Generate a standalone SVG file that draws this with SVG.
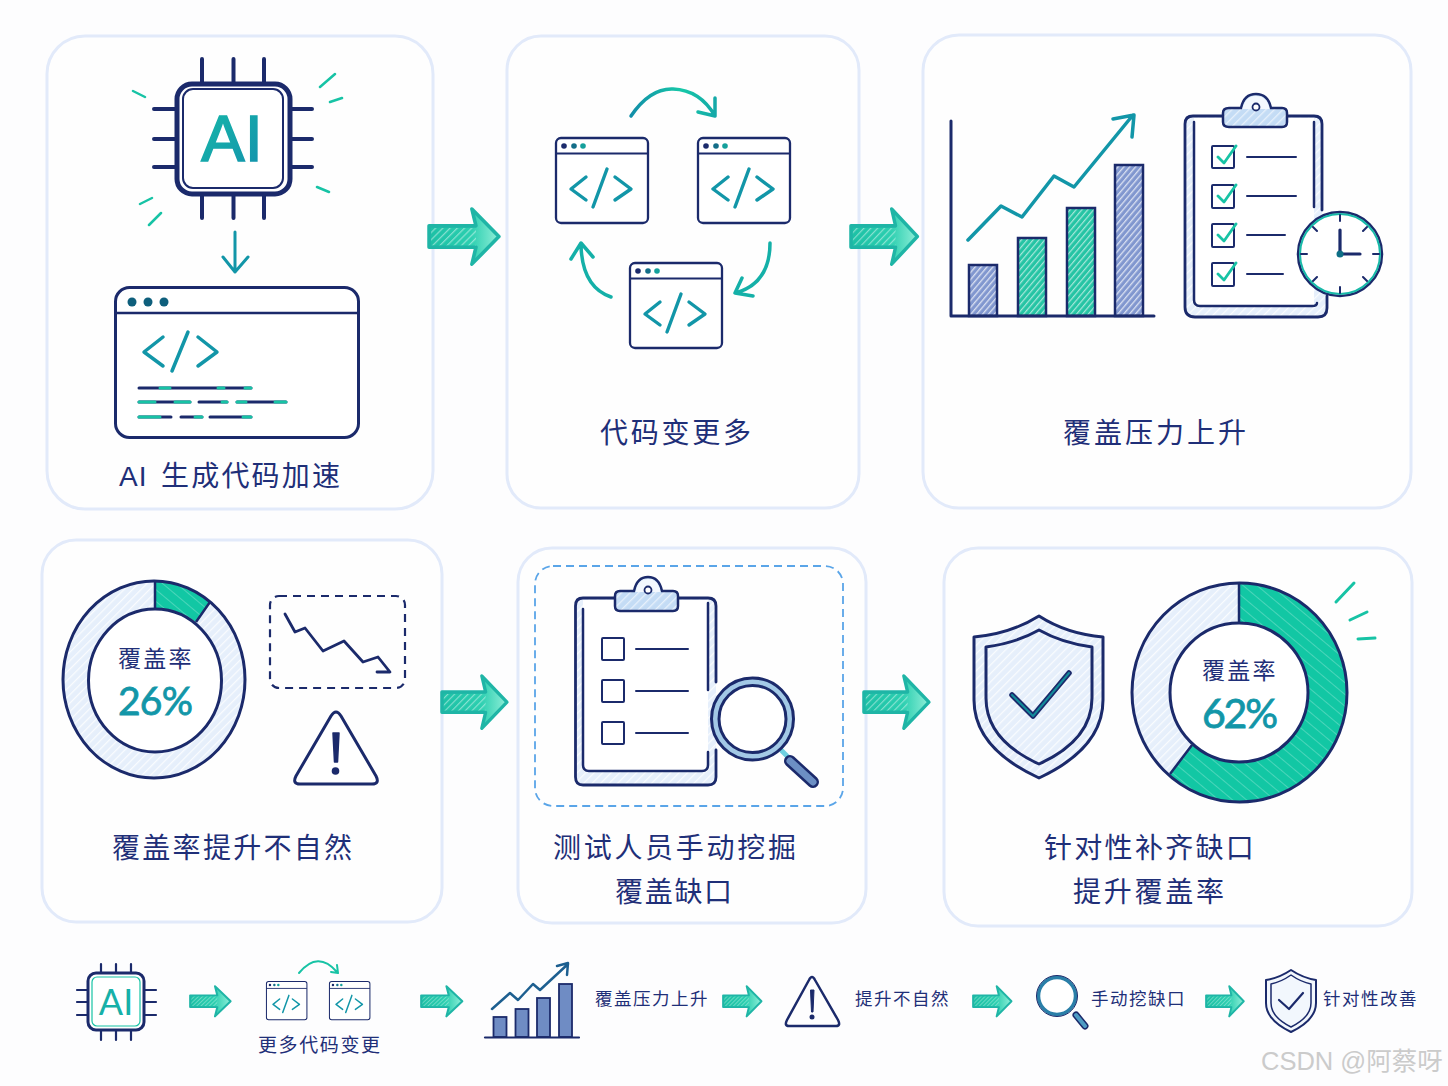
<svg xmlns="http://www.w3.org/2000/svg" width="1448" height="1086" viewBox="0 0 1448 1086">
<style>
.panel{fill:#fefefe;stroke:#e2eafa;stroke-width:3}
.nv{fill:none;stroke:#1b2a6b;stroke-linecap:round;stroke-linejoin:round}
.tl{fill:none;stroke:#17c3a5;stroke-linecap:round;stroke-linejoin:round}
.bt{fill:none;stroke:#1296a8;stroke-linecap:round;stroke-linejoin:round}
.lb{font-family:"Noto Sans CJK SC","Liberation Sans",sans-serif;fill:#1f2f78;font-size:28px}
.sm{font-family:"Noto Sans CJK SC","Liberation Sans",sans-serif;fill:#1f2f78;font-size:17.5px;letter-spacing:1.5px}
.pc{font-family:"Lato","Liberation Sans",sans-serif;fill:#1296a8;stroke:#1296a8;stroke-width:.8}
.dk{font-family:"Noto Sans CJK SC",sans-serif;fill:#1f2f78;font-size:23px;letter-spacing:2.2px}
</style>
<defs>
<pattern id="hW" width="5" height="5" patternUnits="userSpaceOnUse" patternTransform="rotate(-45)"><rect width="5" height="1.2" fill="#fff" opacity=".45"/></pattern>
<pattern id="hS" width="9" height="9" patternUnits="userSpaceOnUse" patternTransform="rotate(40)"><rect width="9" height="9" fill="#12c7a4"/><rect width="9" height=".8" fill="#fff" opacity=".3"/></pattern>
<pattern id="hB" width="4.500" height="4.500" patternUnits="userSpaceOnUse" patternTransform="rotate(-50)"><rect width="4.500" height="4.500" fill="#8197cf"/><rect width="4.500" height="1.300" fill="#fff" opacity=".7"/></pattern>
<pattern id="hG" width="4.500" height="4.500" patternUnits="userSpaceOnUse" patternTransform="rotate(-50)"><rect width="4.500" height="4.500" fill="#25c4a4"/><rect width="4.500" height="1.200" fill="#fff" opacity=".6"/></pattern>
<pattern id="hL" width="6" height="6" patternUnits="userSpaceOnUse" patternTransform="rotate(-45)"><rect width="6" height="6" fill="#e6effb"/><rect width="6" height="1.200" fill="#fff" opacity=".8"/></pattern>
<pattern id="hC" width="6" height="6" patternUnits="userSpaceOnUse" patternTransform="rotate(-45)"><rect width="6" height="6" fill="#c4dcf5"/><rect width="6" height="1.300" fill="#fff" opacity=".6"/></pattern>
<linearGradient id="gAI" x1="0" y1="0" x2="1" y2="1"><stop offset="0" stop-color="#17b9a8"/><stop offset="1" stop-color="#1290ad"/></linearGradient>
<linearGradient id="gArc" gradientUnits="userSpaceOnUse" x1="631" y1="0" x2="715" y2="0"><stop offset="0" stop-color="#128ea8"/><stop offset=".6" stop-color="#17c8a8"/><stop offset="1" stop-color="#14a9a8"/></linearGradient>
<linearGradient id="gA" x1="0" y1="0" x2="1" y2="0"><stop offset="0" stop-color="#1cc0a5"/><stop offset=".6" stop-color="#2ccfb0"/><stop offset="1" stop-color="#8feed8"/></linearGradient>
<g id="arr"><path d="M2 18.500H48L44 2 70.500 29 44 56 48 39.500H2Z" fill="url(#gA)" stroke="#1fb5a6" stroke-width="3.500" stroke-linejoin="round"/><path d="M4 20.500H48V37.500H4Z" fill="url(#hW)"/></g>
<g id="win"><rect x="1" y="1" width="92" height="85" rx="5" fill="#fff" stroke="#1b2a6b" stroke-width="2.300"/><path d="M1 16.500H93" stroke="#1b2a6b" stroke-width="2"/><circle cx="9" cy="9" r="2.800" fill="#1b2a6b"/><circle cx="19" cy="9" r="2.800" fill="#136d88"/><circle cx="28" cy="9" r="2.800" fill="#14a09c"/><path class="bt" stroke-width="3.400" d="M31 40 16 52 31 63M52 32 38 70M60 40 76 52 60 63"/></g>
</defs>
<rect width="1448" height="1086" fill="#fdfdfe"/>

<g id="node-ai">
<rect class="panel" x="47" y="36" width="386" height="473" rx="38"/>
<path class="nv" stroke-width="4" d="M202 59V82M233.500 59V82M264 59V82M202 196V218M233.500 196V218M264 196V218M154 109H175M154 139H175M154 167H175M290 109H312M290 139H312M290 167H312"/>
<rect x="177" y="84" width="113" height="110" rx="15" fill="#fff" stroke="#1b2a6b" stroke-width="5"/>
<rect x="183" y="89" width="100" height="99" rx="10" fill="#fff" stroke="#1b2a6b" stroke-width="2"/>
<text x="232" y="161" text-anchor="middle" font-family="Liberation Sans" font-size="65" fill="url(#gAI)" stroke="url(#gAI)" stroke-width="1.600">AI</text>
<path class="tl" stroke-width="2.500" d="M320 87 335 74M330 102 342 98M133 91 145 97M140 204 152 198M149 225 161 213M317 187 329 192"/>
<path class="bt" stroke-width="3" d="M235 232V272M223 257 235 272 248 257"/>
<rect x="115.500" y="287.500" width="243" height="150" rx="14" fill="#fff" stroke="#1b2a6b" stroke-width="3"/>
<path d="M116 313H358" stroke="#1b2a6b" stroke-width="2.500"/>
<circle cx="132" cy="302" r="4.500" fill="#0e5f7c"/><circle cx="148" cy="302" r="4.500" fill="#0e5f7c"/><circle cx="164" cy="302" r="4.500" fill="#0e5f7c"/>
<path class="bt" stroke-width="3.500" d="M163 337 144 352 163 366M188 332 172 371M198 337 217 352 198 366"/>
<path class="nv" stroke-width="3" d="M139 388H251M139 402H190M199 402H227M237 402H286M139 417H171M181 417H202M210 417H251"/>
<path class="tl" stroke-width="3" d="M160 388H170M218 388H224M245 388H251M139 402H155M175 402H190M222 402H227M237 402H246M275 402H286M139 417H160M195 417H202M243 417H251"/>
<text class="lb" y="486"><tspan x="119" font-family="Liberation Sans" style="letter-spacing:1px">AI</tspan><tspan x="161" style="letter-spacing:2.200px">生成代码加速</tspan></text>
</g>

<g id="node-changes">
<rect class="panel" x="507" y="36" width="352" height="472" rx="34"/>
<use href="#win" transform="translate(555 137)"/>
<use href="#win" transform="translate(697 137)"/>
<use href="#win" transform="translate(629 262)"/>
<path fill="none" stroke="url(#gArc)" stroke-width="3.500" stroke-linecap="round" stroke-linejoin="round" d="M631 116Q650 88 673 89 700 90 715 116M698 112 715 116 715 98"/>
<path class="tl" style="stroke:#14b0a8" stroke-width="3.500" d="M770 243Q770 283 736 293M742 278 735 293 753 296"/>
<path class="tl" style="stroke:#14b0a8" stroke-width="3.500" d="M611 297Q582 287 581 245M571 259 581 243 593 257"/>
<text class="lb" x="600" y="443" style="letter-spacing:2.750px">代码变更多</text>
</g>

<g id="node-pressure">
<rect class="panel" x="923" y="35" width="488" height="473" rx="36"/>
<rect x="969" y="265" width="28" height="51" fill="url(#hB)" stroke="#1b2a6b" stroke-width="2.500"/>
<rect x="1018" y="238" width="28" height="78" fill="url(#hG)" stroke="#1b2a6b" stroke-width="2.500"/>
<rect x="1067" y="208" width="28" height="108" fill="url(#hG)" stroke="#1b2a6b" stroke-width="2.500"/>
<rect x="1115" y="165" width="28" height="151" fill="url(#hB)" stroke="#1b2a6b" stroke-width="2.500"/>
<path class="nv" stroke-width="3" d="M951 121V316H1154"/>
<path class="bt" stroke-width="3.500" d="M968 240 1001 206 1022 217 1054 176 1074 187 1133 115M1113 119 1134 115 1132 137"/>
<path d="M1193 116H1314Q1322 116 1322 124V220L1327 300V308Q1327 317 1318 317H1195Q1185 317 1185 307V124Q1185 116 1193 116Z" fill="url(#hL)"/>
<rect x="1194" y="118" width="120" height="188" fill="#fff"/>
<path class="nv" stroke-width="2.800" d="M1322 210V124Q1322 116 1314 116H1193Q1185 116 1185 124V307Q1185 317 1195 317H1318Q1327 317 1327 308V296"/>
<path class="nv" stroke-width="2.500" d="M1194 122V300Q1194 306 1200 306H1312Q1317 306 1317 303M1314 122V207"/>
<path d="M1223 113Q1223 108 1229 108H1241Q1244 94 1256 94 1268 94 1271 108H1282Q1287 108 1287 113V122Q1287 127 1282 127H1229Q1223 127 1223 122Z" fill="url(#hC)" stroke="#1b2a6b" stroke-width="2.500"/>
<path d="M1242.500 109Q1245 96 1256 96 1267 96 1269.500 109Z" fill="#f3f8fe"/>
<circle cx="1256" cy="107" r="3.500" fill="#fff" stroke="#1b2a6b" stroke-width="1.800"/>
<g fill="#fff" stroke="#1b2a6b" stroke-width="2"><rect x="1212" y="146" width="22" height="22" rx="1"/><rect x="1212" y="185" width="22" height="23" rx="1"/><rect x="1212" y="224" width="22" height="23" rx="1"/><rect x="1212" y="263" width="22" height="23" rx="1"/></g>
<path class="tl" stroke-width="2.800" d="M1218 157 1224 163 1236 146M1218 196 1224 202 1236 185M1218 235 1224 241 1236 224M1218 274 1224 280 1236 263"/>
<path class="nv" stroke-width="2" d="M1247 157H1296M1247 196H1296M1247 235H1285M1247 274H1283"/>
<circle cx="1340" cy="254" r="42" fill="#fff" stroke="#1b2a6b" stroke-width="2.500"/>
<circle cx="1340" cy="254" r="40" fill="none" stroke="#17b9a8" stroke-width="2"/>
<path class="nv" stroke-width="2" d="M1340 215V221M1340 287V293M1301 254H1307M1373 254H1379M1313 227 1317 231M1367 227 1363 231M1313 281 1317 277M1367 281 1363 277"/>
<path class="nv" stroke-width="3.200" d="M1340 230V254H1360"/>
<circle cx="1340" cy="254" r="3.500" fill="#0e6f86"/>
<text class="lb" x="1063" y="443" style="letter-spacing:3px">覆盖压力上升</text>
</g>

<g id="node-unnatural">
<rect class="panel" x="42" y="540" width="400" height="382" rx="34"/>
<ellipse cx="154.500" cy="679.500" rx="78" ry="84.500" fill="none" stroke="url(#hL)" stroke-width="26"/>
<path d="M155 581A91 98.500 0 0 1 210 602L196 622A66.500 71.500 0 0 0 155 609Z" fill="url(#hS)"/>
<path d="M155 581V609M196 622 210 602" stroke="#1b2a6b" stroke-width="2.500"/>
<ellipse cx="154" cy="679.500" rx="91" ry="98.500" fill="none" stroke="#1b2a6b" stroke-width="3"/>
<ellipse cx="155" cy="680.500" rx="66.500" ry="71.500" fill="#fff" stroke="#1b2a6b" stroke-width="3"/>
<text class="dk" x="118" y="667">覆盖率</text>
<text class="pc" x="118" y="715" font-size="39" textLength="75">26%</text>
<rect x="270" y="596" width="135" height="92" rx="9" fill="none" stroke="#1b2a6b" stroke-width="2.200" stroke-dasharray="8 6"/>
<path class="nv" stroke-width="2.800" d="M285 614 295 632 305 628 323 651 344 641 363 662 378 657 390 672H377"/>
<path class="nv" stroke-width="3" d="M331 716Q336 708 341 716L376 776Q380 784 372 784H300Q292 784 296 776Z" style="fill:#fff"/>
<path d="M333 733H339L337.500 762H334.500Z" fill="#1b2a6b" stroke="#1b2a6b" stroke-width="1.500" stroke-linejoin="round"/>
<circle cx="335.500" cy="771" r="3.800" fill="#1b2a6b"/>
<text class="lb" x="112" y="858" style="letter-spacing:2.300px">覆盖率提升不自然</text>
</g>

<g id="node-manual">
<rect class="panel" x="518" y="548" width="348" height="375" rx="34"/>
<rect x="535" y="566" width="308" height="240" rx="18" fill="none" stroke="#5aa5e8" stroke-width="1.800" stroke-dasharray="8 5"/>
<rect x="575.500" y="598" width="140.500" height="187" rx="8" fill="url(#hL)"/>
<rect x="583" y="600" width="125" height="171" fill="#fff"/>
<path class="nv" stroke-width="2.800" d="M716 682V606Q716 598 708 598H583Q575.500 598 575.500 606V777Q575.500 785 583 785H708Q716 785 716 777V750"/>
<path class="nv" stroke-width="2.500" d="M583 609V765Q583 771 589 771H702Q708 771 708 765V752M708 690V603"/>
<path d="M615 596Q615 591 620 591H634Q637 577 648 577 659 577 662 591H673Q678 591 678 596V606Q678 611 673 611H620Q615 611 615 606Z" fill="url(#hC)" stroke="#1b2a6b" stroke-width="2.500"/>
<path d="M635.500 592Q638 579 648 579 658 579 660.500 592Z" fill="#f3f8fe"/>
<circle cx="648" cy="590" r="3.500" fill="#fff" stroke="#1b2a6b" stroke-width="1.800"/>
<g fill="#fff" stroke="#1b2a6b" stroke-width="2"><rect x="602" y="638" width="22" height="22" rx="1"/><rect x="602" y="680" width="22" height="22" rx="1"/><rect x="602" y="722" width="22" height="22" rx="1"/></g>
<path class="nv" stroke-width="2" d="M636 649H688M636 691H688M636 733H688"/>
<path d="M781 750 788 757" stroke="#6fd0e0" stroke-width="5"/>
<path class="nv" stroke-width="12" d="M790 761 813 782"/>
<path class="nv" style="stroke:#6c8fc4" stroke-width="7" d="M790 761 813 782"/>
<circle cx="752.500" cy="719" r="37" fill="#fff" stroke="#a3c9e6" stroke-width="8"/>
<circle cx="752.500" cy="719" r="41" fill="none" stroke="#1b2a6b" stroke-width="3"/>
<circle cx="752.500" cy="719" r="33.500" fill="none" stroke="#1b2a6b" stroke-width="3"/>
<text class="lb" x="553" y="858" style="letter-spacing:2.700px">测试人员手动挖掘</text>
<text class="lb" x="615" y="902" style="letter-spacing:1.700px">覆盖缺口</text>
</g>

<g id="node-improve">
<rect class="panel" x="944" y="548" width="468" height="378" rx="34"/>
<path d="M1039 616Q1010 634 974 637V700Q974 748 1039 778 1103 748 1103 700V637Q1067 634 1039 616Z" fill="url(#hL)" stroke="#1b2a6b" stroke-width="3" stroke-linejoin="round"/>
<path d="M1039 630Q1016 643 986 647V698Q986 740 1039 764 1092 740 1092 698V647Q1062 643 1039 630Z" fill="url(#hL)" stroke="#1b2a6b" stroke-width="3" stroke-linejoin="round"/>
<path class="nv" stroke-width="5.500" d="M1012 695 1033 716 1069 673"/>
<path class="bt" style="stroke:#138a9a" stroke-width="2" d="M1012 695 1033 716 1069 673"/>
<ellipse cx="1239.500" cy="692.500" rx="88" ry="89.500" fill="none" stroke="url(#hL)" stroke-width="39"/>
<path d="M1239.500 583A107.500 109.500 0 1 1 1169.100 775.300L1192.800 744.100A69 69.500 0 1 0 1239 623Z" fill="url(#hS)"/>
<path d="M1239 583V623M1170 774 1192 745" stroke="#1b2a6b" stroke-width="2.500"/>
<ellipse cx="1239.500" cy="692.500" rx="107.500" ry="109.500" fill="none" stroke="#1b2a6b" stroke-width="3"/>
<ellipse cx="1239" cy="692.500" rx="69" ry="69.500" fill="#fff" stroke="#1b2a6b" stroke-width="3"/>
<text class="dk" x="1202" y="679">覆盖率</text>
<text class="pc" x="1202" y="728" font-size="41" textLength="76">62%</text>
<path class="tl" stroke-width="3" d="M1336 602 1354 583M1350 620 1367 612M1358 639 1375 638"/>
<text class="lb" x="1044" y="858" style="letter-spacing:2.300px">针对性补齐缺口</text>
<text class="lb" x="1073" y="902" style="letter-spacing:2.750px">提升覆盖率</text>
</g>

<g id="strip-ai">
<path class="nv" stroke-width="2.200" d="M101 964V973M116 964V973M131 964V973M101 1030V1040M116 1030V1040M131 1030V1040M77 990H88M77 1002H88M77 1015H88M144 990H156M144 1002H156M144 1015H156"/>
<rect x="88" y="973" width="56" height="57" rx="8" fill="#fff" stroke="#1b2a6b" stroke-width="3"/>
<rect x="92" y="977" width="48" height="49" rx="5" fill="#fff" stroke="#17c3a5" stroke-width="1.200"/>
<text x="116" y="1015" text-anchor="middle" font-family="Lato" font-size="36" fill="#17b0a8">AI</text>
</g>
<g id="strip-changes">
<use href="#win" transform="translate(266 981) scale(.44 .45)"/>
<use href="#win" transform="translate(329 981) scale(.44 .45)"/>
<path class="tl" stroke-width="2" d="M299 973Q318 950 337 972M331 972 338 973 337 965"/>
<text class="sm" x="258" y="1052" style="font-size:19px;letter-spacing:1.600px">更多代码变更</text>
</g>
<g id="strip-chart">
<g stroke="#1b2a6b" stroke-width="1.800" fill="#6f8cc4"><rect x="493.500" y="1017" width="13" height="20"/><rect x="515.500" y="1009" width="13" height="28"/><rect x="537" y="998" width="13" height="39"/><rect x="559" y="984" width="13" height="53"/></g>
<path class="nv" stroke-width="2.200" d="M485 1037.500H579"/>
<path fill="none" stroke="#1d5f90" stroke-width="2.500" stroke-linecap="round" stroke-linejoin="round" d="M492 1009 510 993 518 1000 533 984 540 990 568 964M557 966 568 963 567 975"/>
<text class="sm" x="595" y="1005">覆盖压力上升</text>
</g>
<g id="strip-warning">
<path class="nv" stroke-width="2.500" d="M809 980Q812 974 815 980L838 1020Q841 1026 836 1026H789Q784 1026 787 1020Z"/>
<path d="M810.500 990H814L813 1012H811.500Z" fill="#1b2a6b" stroke="#1b2a6b" stroke-linejoin="round"/>
<circle cx="812" cy="1017" r="2.500" fill="#1b2a6b"/>
<text class="sm" x="855" y="1005">提升不自然</text>
</g>
<g id="strip-search">
<path class="nv" stroke-width="7" d="M1076 1015 1085 1026"/>
<path class="nv" style="stroke:#4e9cc4" stroke-width="4" d="M1076 1015 1085 1026"/>
<circle cx="1057" cy="996" r="18.500" fill="#fff" stroke="#2a7fa8" stroke-width="3.500"/>
<circle cx="1057" cy="996" r="20.500" fill="none" stroke="#1b2a6b" stroke-width="1"/>
<text class="sm" x="1091" y="1005">手动挖缺口</text>
</g>
<g id="strip-shield">
<path d="M1291 970Q1279 978 1266 980V1003Q1266 1020 1291 1032 1316 1020 1316 1003V980Q1303 978 1291 970Z" fill="#f2f7fd" stroke="#1b2a6b" stroke-width="2" stroke-linejoin="round"/>
<path d="M1291 975Q1281 982 1271 984V1003Q1271 1017 1291 1027 1311 1017 1311 1003V984Q1301 982 1291 975Z" fill="#f2f7fd" stroke="#1b2a6b" stroke-width="1.500" stroke-linejoin="round"/>
<path class="nv" stroke-width="2.200" d="M1279 1000 1289 1009 1303 993"/>
<text class="sm" x="1323" y="1005">针对性改善</text>
</g>
<text id="watermark" x="1261" y="1070" font-family="Liberation Sans,Noto Sans CJK SC,sans-serif" font-size="25.500" fill="#cbcbcb">CSDN @阿蔡呀</text>

<g id="connectors">
<use href="#arr" transform="translate(427 207) scale(1.02 1.02)"/>
<use href="#arr" transform="translate(849 207) scale(.97 1.02)"/>
<use href="#arr" transform="translate(440 674) scale(.95 .97)"/>
<use href="#arr" transform="translate(862 674) scale(.95 .97)"/>
<use href="#arr" transform="translate(189 985) scale(.59 .56)"/>
<use href="#arr" transform="translate(420 985) scale(.6 .56)"/>
<use href="#arr" transform="translate(722 985) scale(.56 .56)"/>
<use href="#arr" transform="translate(972 985) scale(.56 .56)"/>
<use href="#arr" transform="translate(1205 985) scale(.55 .56)"/>
</g>
</svg>
